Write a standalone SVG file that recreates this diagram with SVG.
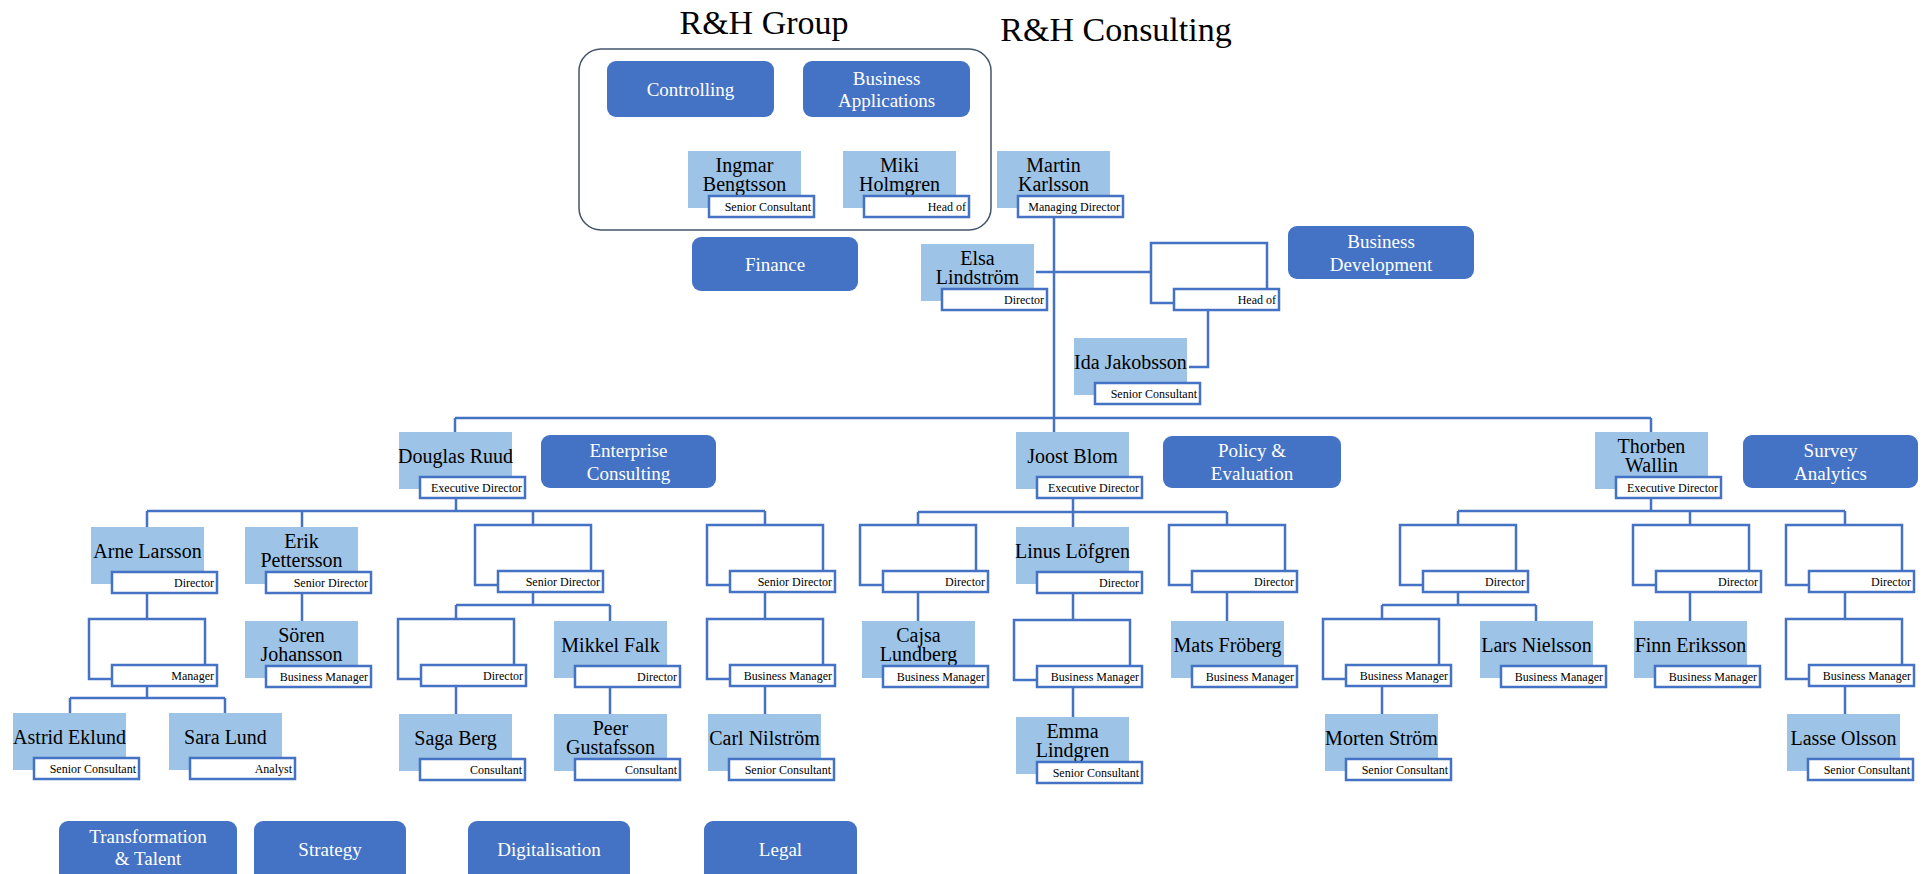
<svg xmlns="http://www.w3.org/2000/svg" width="1927" height="874" viewBox="0 0 1927 874">
<style>
.p{fill:#9DC3E6;stroke:none}
.e{fill:#FFFFFF;stroke:#4472C4;stroke-width:2.5}
.r{fill:#FFFFFF;stroke:#4472C4;stroke-width:2.5}
.d{fill:#4472C4;stroke:none}
.nm{font-family:"Liberation Serif","Times New Roman",serif;font-size:20px;fill:#000;text-anchor:middle}
.rl{font-family:"Liberation Serif","Times New Roman",serif;font-size:12px;fill:#000;text-anchor:end}
.dt{font-family:"Liberation Serif","Times New Roman",serif;font-size:19px;fill:#FFFFFF;text-anchor:middle}
.tt{font-family:"Liberation Serif","Times New Roman",serif;font-size:34px;fill:#000;text-anchor:middle}
.c{fill:none;stroke:#4472C4;stroke-width:2.5}
</style>
<rect width="1927" height="874" fill="#FFFFFF"/>
<text class="tt" x="764" y="34">R&amp;H Group</text>
<text class="tt" x="1116" y="41">R&amp;H Consulting</text>
<g id="group-container"><rect x="579" y="49" width="412" height="181" rx="22" fill="none" stroke="#44546A" stroke-width="1.5"/></g>

<g id="connectors">
<path class="c" d="M1054 217V432"/>
<path class="c" d="M1036 272H1151"/>
<path class="c" d="M1208 310V367H1189"/>
<path class="c" d="M455 418H1651M455 418V432M1651 418V432"/>
<path class="c" d="M456 498V511M147 511H765M147 511V527M302 511V527M533 511V525M765 511V525"/>
<path class="c" d="M147 593V619M302 593V621"/>
<path class="c" d="M147 686V698M70 698H225M70 698V713M225 698V713"/>
<path class="c" d="M533 592V605M456 605H610M456 605V619M610 605V621"/>
<path class="c" d="M456 686V714M610 687V714"/>
<path class="c" d="M765 592V619M765 686V714"/>
<path class="c" d="M1073 498V512M918 512H1227M918 512V525M1073 512V527M1227 512V525"/>
<path class="c" d="M918 592V621M1073 593V620M1073 687V717M1227 592V621"/>
<path class="c" d="M1651 498V511M1458 511H1845M1458 511V525M1690 511V525M1845 511V525"/>
<path class="c" d="M1458 592V605M1382 605H1536M1382 605V619M1536 605V621"/>
<path class="c" d="M1382 686V714M1690 592V621M1845 592V619M1845 686V714"/>
</g>

<g id="controlling"><rect class="d" x="607" y="61" width="167" height="56" rx="9"/><text class="dt" x="690.5" y="96">Controlling</text></g>
<g id="business-applications"><rect class="d" x="803" y="61" width="167" height="56" rx="9"/><text class="dt" x="886.5" y="85">Business</text><text class="dt" x="886.5" y="107">Applications</text></g>
<g id="finance"><rect class="d" x="692" y="237" width="166" height="54" rx="9"/><text class="dt" x="775" y="271">Finance</text></g>
<g id="business-development"><rect class="d" x="1288" y="226" width="186" height="53" rx="9"/><text class="dt" x="1381" y="248">Business</text><text class="dt" x="1381" y="271">Development</text></g>
<g id="enterprise-consulting"><rect class="d" x="541" y="435" width="175" height="53" rx="9"/><text class="dt" x="628.5" y="457">Enterprise</text><text class="dt" x="628.5" y="480">Consulting</text></g>
<g id="policy-evaluation"><rect class="d" x="1163" y="436" width="178" height="52" rx="9"/><text class="dt" x="1252" y="457">Policy &amp;</text><text class="dt" x="1252" y="480">Evaluation</text></g>
<g id="survey-analytics"><rect class="d" x="1743" y="435" width="175" height="53" rx="9"/><text class="dt" x="1830.5" y="457">Survey</text><text class="dt" x="1830.5" y="480">Analytics</text></g>
<g id="transformation-talent"><rect class="d" x="59" y="821" width="178" height="62" rx="9"/><text class="dt" x="148" y="843">Transformation</text><text class="dt" x="148" y="865">&amp; Talent</text></g>
<g id="strategy"><rect class="d" x="254" y="821" width="152" height="62" rx="9"/><text class="dt" x="330" y="856">Strategy</text></g>
<g id="digitalisation"><rect class="d" x="468" y="821" width="162" height="62" rx="9"/><text class="dt" x="549" y="856">Digitalisation</text></g>
<g id="legal"><rect class="d" x="704" y="821" width="153" height="62" rx="9"/><text class="dt" x="780.5" y="856">Legal</text></g>

<g id="ingmar"><rect class="p" x="688" y="151" width="113" height="57"/><text class="nm" x="744.5" y="172">Ingmar</text><text class="nm" x="744.5" y="191">Bengtsson</text><rect class="r" x="709" y="196" width="105" height="21"/><text class="rl" x="811" y="211">Senior Consultant</text></g>
<g id="miki"><rect class="p" x="843" y="151" width="113" height="57"/><text class="nm" x="899.5" y="172">Miki</text><text class="nm" x="899.5" y="191">Holmgren</text><rect class="r" x="864" y="196" width="105" height="21"/><text class="rl" x="966" y="211">Head of</text></g>
<g id="martin"><rect class="p" x="997" y="151" width="113" height="57"/><text class="nm" x="1053.5" y="172">Martin</text><text class="nm" x="1053.5" y="191">Karlsson</text><rect class="r" x="1018" y="196" width="105" height="21"/><text class="rl" x="1120" y="211">Managing Director</text></g>
<g id="elsa"><rect class="p" x="921" y="244" width="113" height="57"/><text class="nm" x="977.5" y="265">Elsa</text><text class="nm" x="977.5" y="284">Lindström</text><rect class="r" x="942" y="289" width="105" height="21"/><text class="rl" x="1044" y="304">Director</text></g>
<g id="bd-head"><rect class="e" x="1151" y="243" width="116" height="60"/><rect class="r" x="1174" y="289" width="105" height="21"/><text class="rl" x="1276" y="304">Head of</text></g>
<g id="ida"><rect class="p" x="1074" y="338" width="113" height="57"/><text class="nm" x="1130.5" y="369">Ida Jakobsson</text><rect class="r" x="1095" y="383" width="105" height="21"/><text class="rl" x="1197" y="398">Senior Consultant</text></g>
<g id="douglas"><rect class="p" x="399" y="432" width="113" height="57"/><text class="nm" x="455.5" y="463">Douglas Ruud</text><rect class="r" x="420" y="477" width="105" height="21"/><text class="rl" x="522" y="492">Executive Director</text></g>
<g id="joost"><rect class="p" x="1016" y="432" width="113" height="57"/><text class="nm" x="1072.5" y="463">Joost Blom</text><rect class="r" x="1037" y="477" width="105" height="21"/><text class="rl" x="1139" y="492">Executive Director</text></g>
<g id="thorben"><rect class="p" x="1595" y="432" width="113" height="57"/><text class="nm" x="1651.5" y="453">Thorben</text><text class="nm" x="1651.5" y="472">Wallin</text><rect class="r" x="1616" y="477" width="105" height="21"/><text class="rl" x="1718" y="492">Executive Director</text></g>

<g id="arne"><rect class="p" x="91" y="527" width="113" height="57"/><text class="nm" x="147.5" y="558">Arne Larsson</text><rect class="r" x="112" y="572" width="105" height="21"/><text class="rl" x="214" y="587">Director</text></g>
<g id="erik"><rect class="p" x="245" y="527" width="113" height="57"/><text class="nm" x="301.5" y="548">Erik</text><text class="nm" x="301.5" y="567">Pettersson</text><rect class="r" x="266" y="572" width="105" height="21"/><text class="rl" x="368" y="587">Senior Director</text></g>
<g id="sd1"><rect class="e" x="475" y="525" width="116" height="60"/><rect class="r" x="498" y="571" width="105" height="21"/><text class="rl" x="600" y="586">Senior Director</text></g>
<g id="sd2"><rect class="e" x="707" y="525" width="116" height="60"/><rect class="r" x="730" y="571" width="105" height="21"/><text class="rl" x="832" y="586">Senior Director</text></g>
<g id="jd1"><rect class="e" x="860" y="525" width="116" height="60"/><rect class="r" x="883" y="571" width="105" height="21"/><text class="rl" x="985" y="586">Director</text></g>
<g id="linus"><rect class="p" x="1016" y="527" width="113" height="57"/><text class="nm" x="1072.5" y="558">Linus Löfgren</text><rect class="r" x="1037" y="572" width="105" height="21"/><text class="rl" x="1139" y="587">Director</text></g>
<g id="jd3"><rect class="e" x="1169" y="525" width="116" height="60"/><rect class="r" x="1192" y="571" width="105" height="21"/><text class="rl" x="1294" y="586">Director</text></g>
<g id="tda"><rect class="e" x="1400" y="525" width="116" height="60"/><rect class="r" x="1423" y="571" width="105" height="21"/><text class="rl" x="1525" y="586">Director</text></g>
<g id="tdb"><rect class="e" x="1633" y="525" width="116" height="60"/><rect class="r" x="1656" y="571" width="105" height="21"/><text class="rl" x="1758" y="586">Director</text></g>
<g id="tdc"><rect class="e" x="1786" y="525" width="116" height="60"/><rect class="r" x="1809" y="571" width="105" height="21"/><text class="rl" x="1911" y="586">Director</text></g>

<g id="mgr"><rect class="e" x="89" y="619" width="116" height="60"/><rect class="r" x="112" y="665" width="105" height="21"/><text class="rl" x="214" y="680">Manager</text></g>
<g id="soren"><rect class="p" x="245" y="621" width="113" height="57"/><text class="nm" x="301.5" y="642">Sören</text><text class="nm" x="301.5" y="661">Johansson</text><rect class="r" x="266" y="666" width="105" height="21"/><text class="rl" x="368" y="681">Business Manager</text></g>
<g id="dir-saga"><rect class="e" x="398" y="619" width="116" height="60"/><rect class="r" x="421" y="665" width="105" height="21"/><text class="rl" x="523" y="680">Director</text></g>
<g id="mikkel"><rect class="p" x="554" y="621" width="113" height="57"/><text class="nm" x="610.5" y="652">Mikkel Falk</text><rect class="r" x="575" y="666" width="105" height="21"/><text class="rl" x="677" y="681">Director</text></g>
<g id="bm-carl"><rect class="e" x="707" y="619" width="116" height="60"/><rect class="r" x="730" y="665" width="105" height="21"/><text class="rl" x="832" y="680">Business Manager</text></g>
<g id="cajsa"><rect class="p" x="862" y="621" width="113" height="57"/><text class="nm" x="918.5" y="642">Cajsa</text><text class="nm" x="918.5" y="661">Lundberg</text><rect class="r" x="883" y="666" width="105" height="21"/><text class="rl" x="985" y="681">Business Manager</text></g>
<g id="bm-emma"><rect class="e" x="1014" y="620" width="116" height="60"/><rect class="r" x="1037" y="666" width="105" height="21"/><text class="rl" x="1139" y="681">Business Manager</text></g>
<g id="mats"><rect class="p" x="1171" y="621" width="113" height="57"/><text class="nm" x="1227.5" y="652">Mats Fröberg</text><rect class="r" x="1192" y="666" width="105" height="21"/><text class="rl" x="1294" y="681">Business Manager</text></g>
<g id="bm-morten"><rect class="e" x="1323" y="619" width="116" height="60"/><rect class="r" x="1346" y="665" width="105" height="21"/><text class="rl" x="1448" y="680">Business Manager</text></g>
<g id="lars"><rect class="p" x="1480" y="621" width="113" height="57"/><text class="nm" x="1536.5" y="652">Lars Nielsson</text><rect class="r" x="1501" y="666" width="105" height="21"/><text class="rl" x="1603" y="681">Business Manager</text></g>
<g id="finn"><rect class="p" x="1634" y="621" width="113" height="57"/><text class="nm" x="1690.5" y="652">Finn Eriksson</text><rect class="r" x="1655" y="666" width="105" height="21"/><text class="rl" x="1757" y="681">Business Manager</text></g>
<g id="bm-lasse"><rect class="e" x="1786" y="619" width="116" height="60"/><rect class="r" x="1809" y="665" width="105" height="21"/><text class="rl" x="1911" y="680">Business Manager</text></g>

<g id="astrid"><rect class="p" x="13" y="713" width="113" height="57"/><text class="nm" x="69.5" y="744">Astrid Eklund</text><rect class="r" x="34" y="758" width="105" height="21"/><text class="rl" x="136" y="773">Senior Consultant</text></g>
<g id="sara"><rect class="p" x="169" y="713" width="113" height="57"/><text class="nm" x="225.5" y="744">Sara Lund</text><rect class="r" x="190" y="758" width="105" height="21"/><text class="rl" x="292" y="773">Analyst</text></g>
<g id="saga"><rect class="p" x="399" y="714" width="113" height="57"/><text class="nm" x="455.5" y="745">Saga Berg</text><rect class="r" x="420" y="759" width="105" height="21"/><text class="rl" x="522" y="774">Consultant</text></g>
<g id="peer"><rect class="p" x="554" y="714" width="113" height="57"/><text class="nm" x="610.5" y="735">Peer</text><text class="nm" x="610.5" y="754">Gustafsson</text><rect class="r" x="575" y="759" width="105" height="21"/><text class="rl" x="677" y="774">Consultant</text></g>
<g id="carl"><rect class="p" x="708" y="714" width="113" height="57"/><text class="nm" x="764.5" y="745">Carl Nilström</text><rect class="r" x="729" y="759" width="105" height="21"/><text class="rl" x="831" y="774">Senior Consultant</text></g>
<g id="emma"><rect class="p" x="1016" y="717" width="113" height="57"/><text class="nm" x="1072.5" y="738">Emma</text><text class="nm" x="1072.5" y="757">Lindgren</text><rect class="r" x="1037" y="762" width="105" height="21"/><text class="rl" x="1139" y="777">Senior Consultant</text></g>
<g id="morten"><rect class="p" x="1325" y="714" width="113" height="57"/><text class="nm" x="1381.5" y="745">Morten Ström</text><rect class="r" x="1346" y="759" width="105" height="21"/><text class="rl" x="1448" y="774">Senior Consultant</text></g>
<g id="lasse"><rect class="p" x="1787" y="714" width="113" height="57"/><text class="nm" x="1843.5" y="745">Lasse Olsson</text><rect class="r" x="1808" y="759" width="105" height="21"/><text class="rl" x="1910" y="774">Senior Consultant</text></g>
</svg>
